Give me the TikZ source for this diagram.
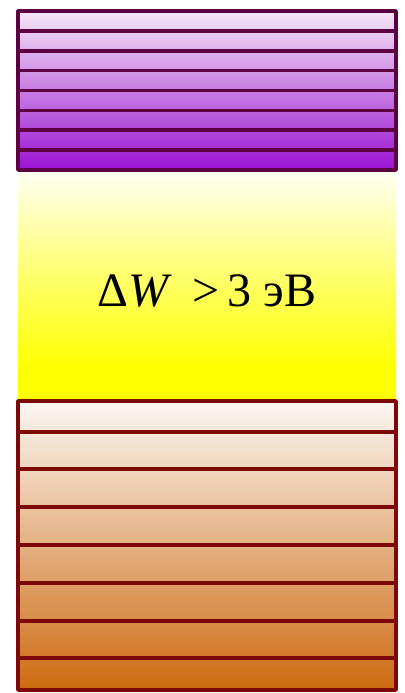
\documentclass[tikz,border=0pt]{standalone}
\usepackage{fontspec}
\setmainfont{Liberation Serif}
\usepackage{tikz}

\definecolor{condtop}{HTML}{F4E6F6}
\definecolor{condbot}{HTML}{9A12D2}
\definecolor{condline}{HTML}{5C0042}
\definecolor{valtop}{HTML}{FBF7F4}
\definecolor{valbot}{HTML}{CD6A10}
\definecolor{valline}{HTML}{7C0808}
\pgfdeclareverticalshading{gapshade}{100bp}{color(0bp)=(yellow); color(25bp)=(yellow);
  color(32bp)=(yellow); color(50bp)=(yellow!62!white); color(75bp)=(yellow!4!white);
  color(100bp)=(yellow!4!white)}

\begin{document}
\begin{tikzpicture}[x=0.03cm, y=-0.03cm, line join=round]
  \useasboundingbox (0,0) rectangle (405,693);
  % the band gap
  \shade[shading=gapshade] (18,170) rectangle (396,401);
  \node (gap) at (207,291) {\fontsize{41}{48}\selectfont Δ\textit{W} \,>\,3 эВ};
  % the conduction band
  \shade[top color=condtop, bottom color=condbot] (18,11) rectangle (396,170);
  \foreach \y in {30.9,50.8,70.6,90.5,110.4,130.2,150.1}
    \draw[condline, line width=3pt] (18,\y)--(396,\y);
  \draw[condline, line width=3.2pt] (18,11) rectangle (396,170);
  % the valence band
  \shade[top color=valtop, bottom color=valbot] (18,401) rectangle (396,690);
  \foreach \y in {432,469,507,545,583,621,658}
    \draw[valline, line width=3pt] (18,\y)--(396,\y);
  \draw[valline, line width=3.2pt] (18,401) rectangle (396,690);
\end{tikzpicture}
\end{document}
